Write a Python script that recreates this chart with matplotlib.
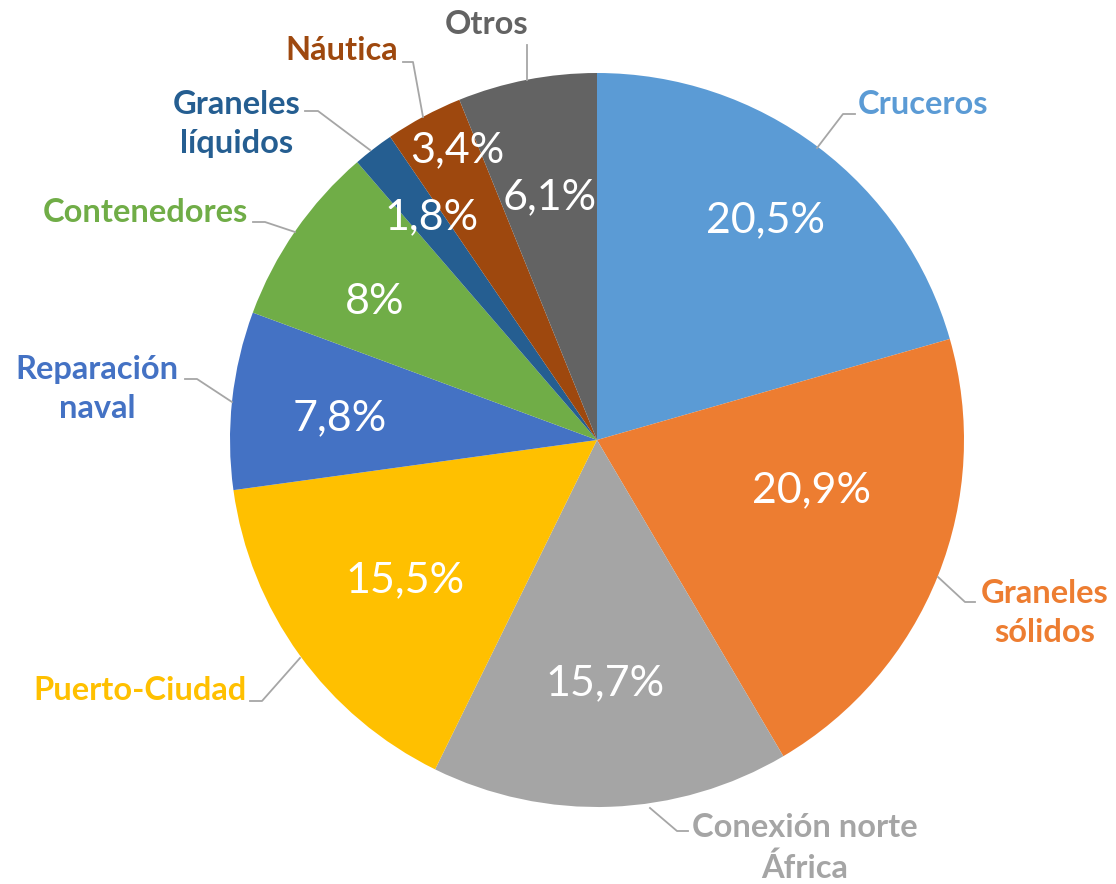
import matplotlib.pyplot as plt

plt.rcParams['font.family'] = ['Lato', 'DejaVu Sans']

sectores = ["Cruceros", "Graneles\nsólidos", "Conexión norte\nÁfrica", "Puerto-Ciudad",
            "Reparación\nnaval", "Contenedores", "Graneles\nlíquidos", "Náutica", "Otros"]
porcentajes = [20.5, 20.9, 15.7, 15.5, 7.8, 8.0, 1.8, 3.4, 6.1]
etiquetas = ["20,5%", "20,9%", "15,7%", "15,5%", "7,8%", "8%", "1,8%", "3,4%", "6,1%"]
colores = ["#5B9BD5", "#ED7D31", "#A5A5A5", "#FFC000", "#4472C4",
           "#70AD47", "#255E91", "#9E480E", "#636363"]

# label placement in pixel coords (x, y from top)
pos_pct = [(765, 220), (812, 490), (605, 683), (405, 580), (340, 418),
           (375, 302), (432, 217), (457, 150), (550, 197)]
pos_txt = [(923, 105), (1045, 613), (805, 848), (140, 690), (97, 389),
           (145, 212), (237, 124), (342, 50), (487, 25)]
lineas = [[(817, 148), (843, 114), (855, 114)],
          [(938, 577), (965, 602), (975, 602)],
          [(650, 808), (677, 831), (688, 831)],
          [(300, 658), (262, 701), (250, 701)],
          [(232, 402), (197, 379), (185, 379)],
          [(295, 232), (265, 222), (253, 222)],
          [(370, 150), (318, 111), (305, 111)],
          [(423, 117), (413, 62), (403, 62)],
          [(527, 80), (527, 45)]]

W, H = 1116, 884
fig = plt.figure(figsize=(W / 100, H / 100), dpi=100)
ax = fig.add_axes([0, 0, 1, 1])

ax.pie(porcentajes, colors=colores, startangle=90, counterclock=False,
       center=(597, H - 440), radius=367, normalize=True,
       wedgeprops=dict(linewidth=0))

ax.set_xlim(0, W)
ax.set_ylim(0, H)
ax.set_aspect('equal')
ax.axis('off')

for (x, y), t in zip(pos_pct, etiquetas):
    ax.text(x, H - y, t, color='white', fontsize=31, ha='center', va='center')

for (x, y), s, c in zip(pos_txt, sectores, colores):
    ax.text(x, H - y, s, color=c, fontsize=23.5, fontweight='bold',
            ha='center', va='center', linespacing=1.45)

for pts in lineas:
    xs = [p[0] for p in pts]
    ys = [H - p[1] for p in pts]
    ax.plot(xs, ys, color='#A6A6A6', linewidth=1.3)

fig.savefig('out.png', dpi=100)
